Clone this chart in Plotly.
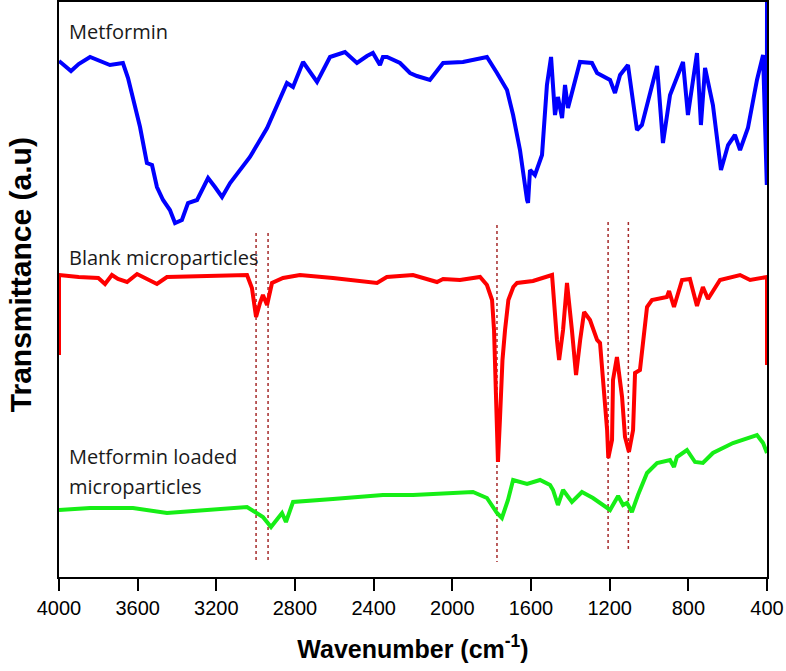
import plotly.graph_objects as go

# Spectra: wavenumber (cm-1) and transmittance in
# arbitrary units (curves are offset vertically, as in the original)
METFORMIN_WN = [4000, 3939, 3900, 3842, 3741, 3675, 3649, 3624, 3588, 3553,
                3527, 3502, 3471, 3436, 3410, 3375, 3344, 3298, 3242, 3207,
                3171, 3130, 3029, 2942, 2841, 2810, 2759, 2688, 2622, 2546,
                2485, 2434, 2404, 2368, 2353, 2332, 2266, 2215, 2180, 2114,
                2047, 1946, 1895, 1824, 1773, 1722, 1691, 1656, 1620, 1615,
                1605, 1580, 1544, 1519, 1498, 1478, 1463, 1442, 1427, 1412,
                1351, 1290, 1264, 1198, 1173, 1147, 1107, 1061, 1036, 1010,
                959, 929, 893, 827, 802, 756, 736, 715, 675, 634, 598, 563,
                537, 497, 451, 420, 410, 401, 400]
METFORMIN_T = [516, 506, 513, 520, 512, 514, 499, 480, 450, 414,
               412, 390, 377, 367, 354, 357, 374, 377, 399, 390,
               380, 394, 420, 449, 494, 490, 515, 495, 520, 525,
               514, 521, 524, 512, 520, 520, 514, 504, 501, 497,
               514, 515, 517, 520, 504, 487, 462, 427, 377, 374,
               407, 402, 422, 492, 520, 462, 480, 459, 492, 469,
               515, 514, 504, 497, 484, 502, 512, 447, 452, 472,
               511, 434, 482, 515, 462, 524, 452, 509, 472, 407, 432, 442,
               427, 449, 497, 522, 467, 392, 575]

BLANK_WN = [4000, 4000, 3900, 3800, 3766, 3731, 3700, 3654, 3603, 3560,
            3502, 3451, 3300, 3044, 3019, 2998, 2978, 2963, 2942, 2917,
            2861, 2775, 2607, 2383, 2333, 2200, 2078, 2047, 1961, 1859,
            1824, 1798, 1788, 1778, 1768, 1758, 1745, 1732, 1715, 1690,
            1671, 1590, 1493, 1468, 1457, 1437, 1417, 1392, 1371, 1350,
            1330, 1300, 1264, 1249, 1234, 1213, 1207, 1188, 1183, 1163,
            1137, 1122, 1102, 1081, 1071, 1046, 1010, 985, 909, 898,
            873, 832, 792, 756, 726, 700, 639, 537, 486, 410, 400, 400]
BLANK_T = [222, 302, 300, 299, 293, 302, 298, 295, 303, 299,
           293, 300, 301, 302, 289, 260, 274, 282, 272, 294,
           299, 302, 299, 294, 300, 302, 295, 298, 297, 300,
           292, 277, 247, 177, 115, 157, 217, 247, 277, 290,
           294, 296, 302, 237, 217, 247, 294, 247, 202, 237,
           265, 257, 237, 234, 197, 147, 119, 137, 197, 220,
           180, 140, 125, 147, 204, 207, 270, 277, 280, 286,
           270, 297, 298, 271, 290, 278, 297, 302, 297, 300, 300, 212]

LOADED_WN = [4000, 3842, 3624, 3451, 3044, 3003, 2963, 2922, 2892, 2866,
             2846, 2810, 2607, 2353, 2200, 1895, 1824, 1773, 1748, 1717,
             1691, 1620, 1554, 1503, 1488, 1463, 1437, 1392, 1341, 1285,
             1198, 1157, 1132, 1112, 1087, 1056, 1010, 959, 893, 873,
             858, 807, 766, 741, 726, 675, 573, 451, 420, 400]
LOADED_T = [67, 69, 69, 64, 70, 65, 60, 50, 57, 64,
            55, 75, 78, 82, 82, 85, 79, 64, 59, 77,
            97, 93, 97, 92, 87, 72, 87, 75, 85, 79,
            67, 81, 72, 74, 65, 82, 104, 114, 117, 110,
            120, 127, 115, 115, 114, 124, 134, 142, 134, 124]

# Dotted marker lines linking the shared bands
PEAK_WN = [2998, 2937, 1773, 1208, 1105]
PEAK_TOP = [344, 344, 352, 355, 355]
PEAK_BOTTOM = [14, 14, 15, 25, 25]

LABEL_FONT = dict(family="Open Sans, Noto Sans, sans-serif", size=20,
                  color="#1a1a1a")
AXIS_FONT = 'Liberation Sans, Arial'

fig = go.Figure()

for top, bottom, wn in zip(PEAK_TOP, PEAK_BOTTOM, PEAK_WN):
    fig.add_trace(go.Scatter(
        x=[wn, wn], y=[top, bottom], mode='lines',
        line={'color': '#a52a2a', 'width': 1.5, 'dash': 'dot'},
        hoverinfo='skip', showlegend=False,
    ))

for wn, t, color in [(METFORMIN_WN, METFORMIN_T, '#0000ff'),
                     (BLANK_WN, BLANK_T, '#ff0000'),
                     (LOADED_WN, LOADED_T, '#16ee16')]:
    fig.add_trace(go.Scatter(
        x=wn, y=t, mode='lines',
        line={'color': color, 'width': 4},
        showlegend=False,
    ))

labels = [("Metformin", 546), ("Blank microparticles", 320),
          ("Metformin loaded", 121), ("microparticles", 91)]
for text, y in labels:
    fig.add_annotation(x=3960, y=y, text=text, showarrow=False,
                       xanchor='left', yanchor='middle', font=LABEL_FONT)

# y title as a rotated annotation: it sits a little above the axis centre
fig.add_annotation(
    xref='paper', yref='paper', x=-0.055, y=0.525, textangle=-90,
    text="<b>Transmittance (a.u)</b>", showarrow=False,
    xanchor='center', yanchor='middle', borderpad=0,
    font={'family': AXIS_FONT, 'size': 30, 'color': 'black'},
)

fig.update_xaxes(
    range=[4000, 400], tickvals=[4000, 3600, 3200, 2800, 2400, 2000, 1600,
                                 1200, 800, 400],
    showline=True, linecolor='black', linewidth=2, mirror=True,
    ticks='outside', ticklen=12, tickwidth=2, tickcolor='black',
    showgrid=False, zeroline=False,
    tickfont={'family': AXIS_FONT, 'size': 20, 'color': 'black'},
    title={'text': "<b>Wavenumber (cm<sup>-1</sup>)</b>", 'standoff': 22,
           'font': {'family': AXIS_FONT, 'size': 25, 'color': 'black'}},
)
fig.update_yaxes(
    range=[0, 575], showticklabels=False, ticks='',
    showline=True, linecolor='black', linewidth=2, mirror=True,
    showgrid=False, zeroline=False,
)
fig.update_layout(
    width=786, height=671,
    margin={'l': 59, 'r': 19, 't': 2, 'b': 94, 'autoexpand': False},
    plot_bgcolor='white', paper_bgcolor='white',
)

# drop the browser's default body margin so the figure sits at the corner
fig.write_html("out.html", config={'displayModeBar': False},
               post_script="document.body.style.margin='0';")
